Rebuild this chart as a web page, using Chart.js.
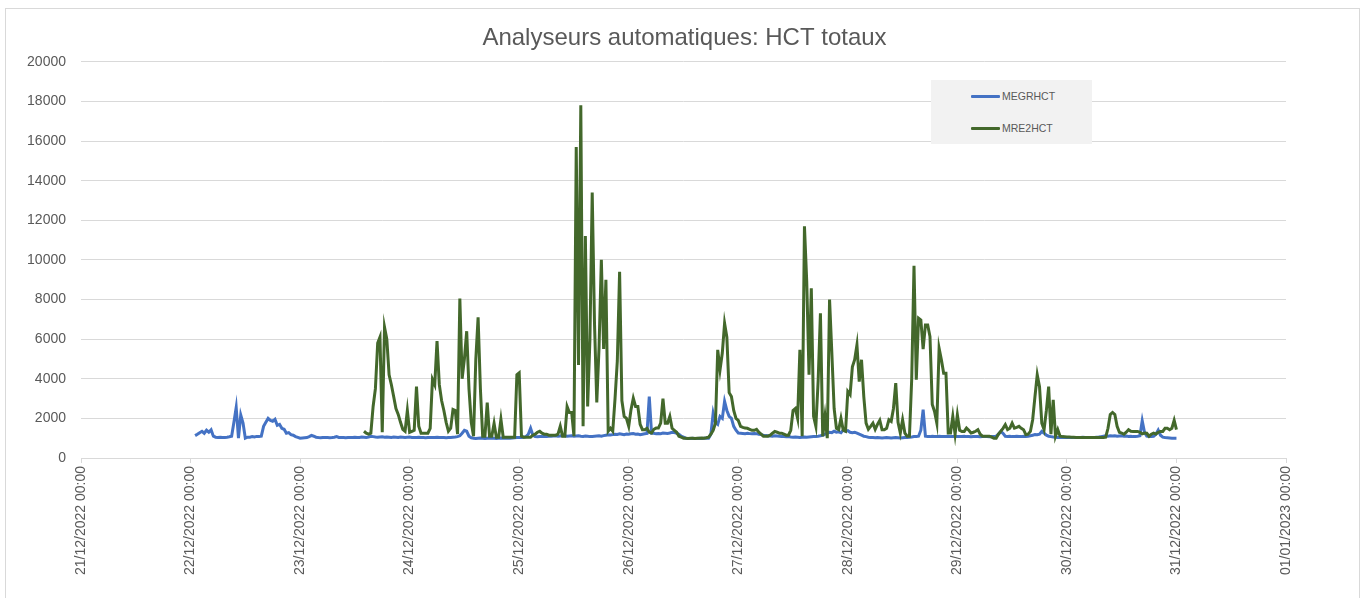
<!DOCTYPE html>
<html>
<head>
<meta charset="utf-8">
<script src="https://cdn.jsdelivr.net/npm/chart.js@4/dist/chart.umd.min.js"></script>
<style>
    html, body { margin: 0; padding: 0; background: #fff; }
    #wrap { position: relative; width: 1369px; height: 598px; overflow: hidden; }
    #frame { position: absolute; left: 5px; top: 8px; width: 1355px; height: 600px; border: 1px solid #d9d9d9; box-sizing: border-box; }
    #chartBox { position: absolute; left: 0; top: 0; width: 1369px; height: 598px; }
    #legend { position: absolute; left: 931px; top: 80px; width: 161px; height: 64px; background: #f2f2f2;
              font-family: "Liberation Sans", Arial, sans-serif; font-size: 10.5px; color: #595959; }
    .item { position: absolute; left: 40px; height: 14px; line-height: 14px; }
    .item span.swatch { position: absolute; left: 0; top: 6px; width: 29px; height: 3px; border-radius: 1px; }
    .item span.name { position: absolute; left: 31px; top: 0; white-space: nowrap; }
</style>
</head>
<body>
<div id="wrap">
    <div id="frame"></div>
    <div id="chartBox"><canvas id="chart"></canvas></div>
    <div id="legend"></div>
</div>
<script>
// heures depuis le 21/12/2022 00:00, un point toutes les 30 min
const stepHours = 0.5;
const dayLabels = ['21/12/2022 00:00', '22/12/2022 00:00', '23/12/2022 00:00', '24/12/2022 00:00',
    '25/12/2022 00:00', '26/12/2022 00:00', '27/12/2022 00:00', '28/12/2022 00:00',
    '29/12/2022 00:00', '30/12/2022 00:00', '31/12/2022 00:00', '01/01/2023 00:00'];
const seriesNames = ['MEGRHCT', 'MRE2HCT'];
const seriesColors = ['#4472c4', '#43682b'];

// MEGRHCT : début 22/12 01:00
const megrStart = 25;
const megrValues = [
    1130, 1200, 1280, 1350, 1250, 1400, 1300, 1420, 1100, 1050, 1030, 1050,
    1030, 1040, 1050, 1070, 1100, 1800, 2550, 1000, 2170, 1760, 1000, 1050,
    1050, 1080, 1060, 1090, 1080, 1100, 1600, 1800, 2000, 1900, 1850, 1950,
    1650, 1700, 1500, 1450, 1250, 1280, 1180, 1150, 1080, 1040, 1000, 1010,
    1020, 1030, 1080, 1140, 1100, 1050, 1030, 1020, 1030, 1040, 1030, 1020,
    1030, 1050, 1080, 1040, 1030, 1030, 1020, 1030, 1040, 1030, 1050, 1030,
    1040, 1060, 1050, 1040, 1060, 1100, 1080, 1060, 1050, 1060, 1070, 1050,
    1060, 1050, 1040, 1060, 1050, 1040, 1060, 1050, 1040, 1050, 1060, 1040,
    1030, 1040, 1050, 1040, 1030, 1020, 1030, 1040, 1030, 1040, 1050, 1030,
    1040, 1030, 1020, 1030, 1040, 1050, 1060, 1080, 1120, 1250, 1400, 1350,
    1100, 1020, 1000, 990, 1000, 1010, 1000, 990, 1000, 1010, 1000, 1000,
    990, 1000, 1010, 1000, 1000, 1010, 1000, 1010, 1020, 1030, 1040, 1030,
    1050, 1080, 1200, 1500, 1150, 1080, 1070, 1090, 1080, 1100, 1090, 1100,
    1100, 1110, 1120, 1100, 1110, 1130, 1120, 1100, 1110, 1120, 1100, 1110,
    1120, 1100, 1090, 1110, 1100, 1080, 1090, 1100, 1110, 1120, 1100, 1130,
    1150, 1170, 1160, 1180, 1200, 1190, 1220, 1200, 1180, 1210, 1200, 1220,
    1230, 1200, 1210, 1180, 1200, 1220, 1240, 3100, 1250, 1250, 1220, 1240,
    1230, 1260, 1250, 1240, 1260, 1300, 1280, 1250, 1200, 1100, 1050, 1000,
    980, 990, 1000, 990, 980, 1000, 990, 1000, 1010, 1000, 1200, 2270,
    1800, 1700, 2100, 2000, 2860, 2400, 2100, 2000, 1600, 1400, 1260, 1250,
    1240, 1230, 1250, 1230, 1220, 1240, 1230, 1200, 1180, 1150, 1130, 1120,
    1110, 1100, 1120, 1110, 1100, 1090, 1080, 1070, 1080, 1060, 1050, 1060,
    1050, 1040, 1050, 1060, 1050, 1060, 1070, 1080, 1090, 1100, 1120, 1150,
    1200, 1250, 1300, 1280, 1350, 1300, 1320, 1280, 1410, 1350, 1380, 1300,
    1280, 1300, 1250, 1200, 1150, 1100, 1080, 1050, 1040, 1030, 1020, 1030,
    1020, 1010, 1020, 1030, 1020, 1010, 1020, 1030, 1020, 1010, 1020, 1030,
    1040, 1050, 1060, 1080, 1090, 1100, 1400, 2440, 1100, 1090, 1080, 1100,
    1090, 1080, 1100, 1090, 1080, 1090, 1100, 1080, 1090, 1100, 1090, 1080,
    1090, 1100, 1080, 1090, 1070, 1080, 1090, 1080, 1070, 1080, 1090, 1080,
    1070, 1080, 1090, 1100, 1200, 1340, 1250, 1100, 1090, 1100, 1080, 1090,
    1100, 1090, 1080, 1100, 1090, 1100, 1120, 1150, 1180, 1170, 1200, 1340,
    1250, 1150, 1100, 1080, 1060, 1050, 1040, 1050, 1040, 1030, 1040, 1030,
    1040, 1030, 1040, 1030, 1040, 1050, 1040, 1030, 1040, 1030, 1040, 1050,
    1060, 1080, 1100, 1120, 1100, 1120, 1110, 1120, 1100, 1110, 1120, 1100,
    1110, 1090, 1100, 1080, 1090, 1100, 1120, 1880, 1300, 1100, 1080, 1090,
    1100, 1200, 1410, 1150, 1050, 1030, 1020, 1010, 1000, 1000, 1000
];

// MRE2HCT : début 23/12 14:00
const mre2Start = 62;
const mre2Values = [
    1350, 1250, 1200, 1250, 2600, 3500, 5800, 6100, 1300, 6600, 6000, 4200,
    3700, 3100, 2500, 2200, 1800, 1450, 1350, 2400, 1300, 1350, 1400, 3600,
    1600, 1250, 1250, 1250, 1250, 1500, 3970, 3700, 5900, 3700, 2900, 2400,
    1800, 1350, 1500, 2450, 2400, 1200, 8050, 4000, 5000, 6400, 3500, 1800,
    1100, 5000, 7100, 3500, 1100, 1100, 2800, 1100, 1100, 1750, 1050, 1050,
    1950, 1050, 1050, 1050, 1050, 1050, 1050, 4200, 4300, 1100, 1050, 1050,
    1050, 1050, 1150, 1200, 1300, 1350, 1250, 1200, 1200, 1150, 1150, 1150,
    1150, 1200, 1600, 1100, 1100, 2600, 2300, 2300, 1100, 15700, 4700, 17800,
    1600, 11200, 2600, 6000, 13400, 6800, 2800, 5600, 10000, 5500, 9000, 1350,
    1500, 1350, 3000, 4900, 9400, 2900, 2100, 2000, 1600, 2440, 3020, 2600,
    2600, 1700, 1430, 1430, 1500, 1300, 1260, 1450, 1510, 1510, 1760, 3000,
    1760, 1760, 2100, 1500, 1400, 1300, 1100, 1050, 1000, 1000, 990, 1000,
    1000, 990, 1000, 1000, 1010, 1000, 1020, 1050, 1200, 1400, 1760, 5460,
    4450, 5300, 6800, 6100, 3300, 3100, 2400, 2000, 1900, 1600, 1550, 1510,
    1500, 1450, 1400, 1400, 1450, 1300, 1200, 1100, 1100, 1100, 1150, 1250,
    1340, 1300, 1250, 1250, 1200, 1150, 1150, 1400, 2400, 2500, 2000, 5460,
    1100, 11700, 8900, 4200, 8570, 2100, 1600, 3900, 7300, 1100, 2100, 1000,
    8000, 5300, 2500, 1500, 1430, 2000, 1400, 1350, 3360, 3200, 4600, 4960,
    5710, 3860, 4960, 3100, 1760, 1450, 1600, 1760, 1450, 1700, 1900, 1430,
    1430, 1500, 1930, 1850, 2500, 3780, 1800, 1260, 1930, 1260, 1100, 1100,
    4000, 9700, 3950, 7060, 6970, 5500, 6720, 6720, 6130, 2700, 2350, 1760,
    5540, 4960, 4280, 4280, 1260, 1260, 2100, 1200, 2180, 1400, 1340, 1340,
    1510, 1400, 1260, 1300, 1350, 1430, 1200, 1100, 1100, 1100, 1100, 1050,
    1000, 1000, 1200, 1340, 1500, 1680, 1430, 1500, 1760, 1510, 1550, 1600,
    1500, 1430, 1180, 1200, 1340, 1930, 3100, 4200, 3600, 1760, 1430, 2400,
    3600, 1200, 2940, 1100, 1430, 1100, 1080, 1070, 1060, 1060, 1050, 1050,
    1040, 1040, 1040, 1030, 1030, 1030, 1030, 1030, 1030, 1030, 1030, 1030,
    1030, 1050, 1500, 2200, 2300, 2200, 1600, 1300, 1260, 1200, 1300, 1430,
    1350, 1340, 1340, 1340, 1300, 1220, 1260, 1250, 1100, 1200, 1260, 1210,
    1300, 1340, 1340, 1500, 1500, 1430, 1500, 1900, 1430
];

const yTicks = { min: 0, max: 20000, step: 2000 };
const fontFamily = '"Liberation Sans", Arial, sans-serif';

function toPoints(start, values) {
    return values.map((v, i) => ({ x: start + i * stepHours, y: v }));
}

// titre centré sur toute la largeur du cadre, pas seulement sur la zone du graphique
const fullWidthTitle = {
    id: 'fullWidthTitle',
    afterLayout(chart) {
        const t = chart.titleBlock;
        if (t) {
            t.left = 0;
            t.right = chart.width;
            t.width = chart.width;
        }
    }
};

// légende HTML dans le cadre gris
const legendEl = document.getElementById('legend');
seriesNames.forEach((name, i) => {
    const row = document.createElement('div');
    row.className = 'item';
    row.style.top = (9 + i * 32) + 'px';
    row.innerHTML = '<span class="swatch" style="background:' + seriesColors[i] + '"></span>' +
        '<span class="name">' + name + '</span>';
    legendEl.appendChild(row);
});

const ctx = document.getElementById('chart').getContext('2d');
new Chart(ctx, {
    type: 'line',
    data: {
        datasets: [
            {
                label: seriesNames[0],
                data: toPoints(megrStart, megrValues),
                borderColor: seriesColors[0],
                borderWidth: 3,
                pointRadius: 0,
                tension: 0,
                order: 2
            },
            {
                label: seriesNames[1],
                data: toPoints(mre2Start, mre2Values),
                borderColor: seriesColors[1],
                borderWidth: 3,
                pointRadius: 0,
                tension: 0,
                order: 1
            }
        ]
    },
    options: {
        responsive: true,
        maintainAspectRatio: false,
        animation: false,
        devicePixelRatio: 1,
        layout: {
            padding: { left: 5, right: 83, top: 0, bottom: 0 }
        },
        plugins: {
            legend: { display: false },
            tooltip: { enabled: false },
            title: {
                display: true,
                text: 'Analyseurs automatiques: HCT totaux',
                color: '#595959',
                font: { family: fontFamily, size: 24, weight: 'normal' },
                padding: { top: 24, bottom: 9 }
            }
        },
        scales: {
            x: {
                type: 'linear',
                min: 0,
                max: (dayLabels.length - 1) * 24,
                afterFit: (scale) => { scale.height = 140; },
                grid: {
                    drawOnChartArea: false,
                    drawTicks: true,
                    tickLength: 5,
                    color: '#d9d9d9'
                },
                border: { color: '#d9d9d9' },
                ticks: {
                    stepSize: 24,
                    autoSkip: false,
                    maxRotation: 90,
                    minRotation: 90,
                    padding: 3,
                    color: '#595959',
                    font: { family: fontFamily, size: 14 },
                    callback: (v) => dayLabels[Math.round(v / 24)]
                }
            },
            y: {
                min: yTicks.min,
                max: yTicks.max,
                afterFit: (scale) => { scale.width = 76; },
                grid: { color: '#d9d9d9', drawTicks: false },
                border: { display: false },
                ticks: {
                    stepSize: yTicks.step,
                    padding: 15,
                    color: '#595959',
                    font: { family: fontFamily, size: 14 },
                    callback: (v) => String(v)
                }
            }
        }
    },
    plugins: [fullWidthTitle]
});
</script>
</body>
</html>
